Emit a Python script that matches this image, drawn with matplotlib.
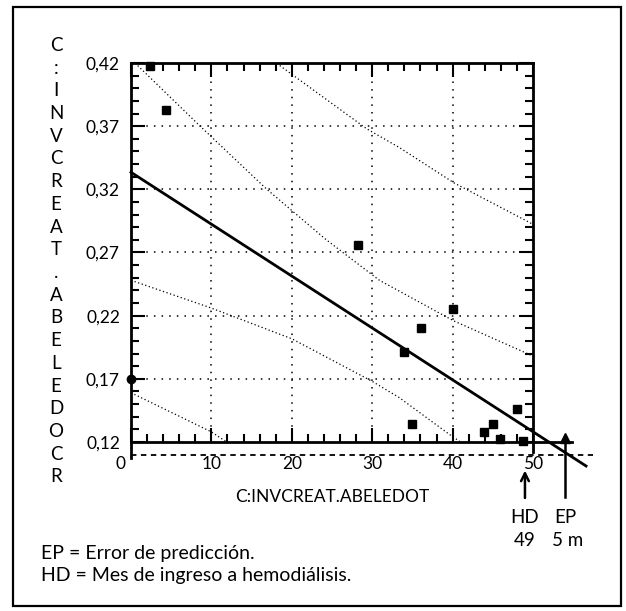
import matplotlib.pyplot as plt
import matplotlib.transforms as mtransforms
from matplotlib.patches import Rectangle

plt.rcParams['font.family'] = ['Lato', 'DejaVu Sans']

# data
x_pts = [2.4, 4.3, 28.2, 33.9, 34.9, 36.1, 40.1, 43.9, 45.0, 45.9, 48.0, 48.8]
y_pts = [0.418, 0.383, 0.276, 0.191, 0.134, 0.210, 0.225, 0.128, 0.134, 0.122, 0.146, 0.121]
x_first, y_first = [0.0], [0.170]

x_fit = [0.0, 56.6]
y_fit = [0.3335, 0.101]

upper_in_x = [0.5, 8.6, 16.9, 24.3, 30.9, 40.1, 50.0]
upper_in_y = [0.420, 0.370, 0.320, 0.280, 0.248, 0.216, 0.188]
lower_in_x = [0.0, 10.0, 20.0, 30.0, 33.4, 39.6, 41.0]
lower_in_y = [0.248, 0.226, 0.2017, 0.168, 0.155, 0.126, 0.120]
upper_out_x = [18.5, 29.3, 33.4, 40.2, 49.8]
upper_out_y = [0.418, 0.368, 0.353, 0.325, 0.293]
lower_out_x = [0.0, 10.0, 11.9]
lower_out_y = [0.159, 0.128, 0.120]

limit_y = 0.11
hd_month = 49
ep_month = 54

x_ticks = [0, 10, 20, 30, 40, 50]
y_ticks = [0.12, 0.17, 0.22, 0.27, 0.32, 0.37, 0.42]
y_labels = ['0,12', '0,17', '0,22', '0,27', '0,32', '0,37', '0,42']
y_title = 'C:INVCREAT.ABELEDOCR'

fig = plt.figure(figsize=(6.26, 6.11), dpi=100)
W, H = 626, 611
ax = fig.add_axes([131 / W, 1 - 442 / H, 402 / W, 379 / H])

ax.set_xlim(0, 50)
ax.set_ylim(0.12, 0.42)

# grid
for xv in x_ticks[1:-1]:
    ax.axvline(xv, color='black', lw=1.1, ls=(0, (1, 4)))
for yv in y_ticks[1:-1]:
    ax.axhline(yv, color='black', lw=1.1, ls=(0, (1, 4)))

# bands
for bx, by in [(upper_in_x, upper_in_y), (lower_in_x, lower_in_y),
               (upper_out_x, upper_out_y), (lower_out_x, lower_out_y)]:
    ax.plot(bx, by, color='black', lw=0.9, ls=(0, (1, 2)))

# regression line
ax.plot(x_fit, y_fit, color='black', lw=2, clip_on=False, zorder=4)

# dashed limit line
ax.plot([0, 57.5], [limit_y, limit_y], color='black', lw=1.3, ls=(0, (3, 2.5)), clip_on=False)

# points
ax.plot(x_pts, y_pts, 's', color='black', ms=5.5, clip_on=False, zorder=5)
ax.plot(x_first, y_first, 'o', color='black', ms=6, clip_on=False, zorder=5)

# axis extensions
ax.plot([50, 54.8], [0.12, 0.12], color='black', lw=2, clip_on=False)
ax.plot([0, 0], [0.12, 0.107], color='black', lw=2, clip_on=False)
ax.plot([50, 50], [0.12, 0.112], color='black', lw=2, clip_on=False)

# arrows HD / EP
trans = mtransforms.blended_transform_factory(ax.transData, ax.transAxes)
ax.annotate('', xy=(hd_month, -0.068), xytext=(hd_month, -0.155),
            xycoords=trans, textcoords=trans,
            arrowprops=dict(arrowstyle='->', lw=1.8, color='black', mutation_scale=14))
ax.plot([ep_month, ep_month], [0.0, -0.145], transform=trans, color='black', lw=1.8, clip_on=False)
ax.plot([ep_month], [0.123], '^', color='black', ms=7, clip_on=False, zorder=5)

ax.text(hd_month, -0.2, 'HD', transform=trans, ha='center', va='center', fontsize=13.5)
ax.text(hd_month, -0.26, '49', transform=trans, ha='center', va='center', fontsize=13.5)
ax.text(ep_month, -0.2, 'EP', transform=trans, ha='center', va='center', fontsize=13.5)
ax.text(ep_month + 0.3, -0.26, '5 m', transform=trans, ha='center', va='center', fontsize=13.5)

# ticks and spines
for s in ax.spines.values():
    s.set_linewidth(2)
ax.set_xticks(x_ticks)
ax.set_xticks(range(0, 51, 2), minor=True)
ax.set_yticks(y_ticks)
ax.set_yticklabels(y_labels)
ax.set_yticks([0.12 + 0.01 * i for i in range(31)], minor=True)
ax.tick_params(which='both', direction='in', top=True, right=True, width=1.5, labelsize=12.5)
ax.tick_params(which='major', length=10)
ax.tick_params(which='minor', length=6)
ax.tick_params(axis='x', pad=10)
ax.tick_params(axis='y', pad=8)
lab0 = ax.get_xticklabels()[0]
lab0.set_horizontalalignment('right')
lab0.set_transform(lab0.get_transform() + mtransforms.ScaledTranslation(-5 / 100, 0, fig.dpi_scale_trans))

ax.set_xlabel('C:INVCREAT.ABELEDOT', fontsize=12.5, labelpad=12)

# stacked y title
for i, ch in enumerate(y_title):
    fig.text(56 / W, 1 - (45.5 + i * 22.7) / H, ch, ha='center', va='center', fontsize=13.5)

fig.text(41 / W, 1 - 554 / H, 'EP = Error de predicción.', fontsize=14, va='center')
fig.text(41 / W, 1 - 575 / H, 'HD = Mes de ingreso a hemodiálisis.', fontsize=14, va='center')

fig.patches.append(Rectangle((13 / W, 1 - 606 / H), (621 - 13) / W, (606 - 7) / H,
                             transform=fig.transFigure, fill=False, lw=1.6, color='black'))

fig.savefig('out.png', dpi=100)
